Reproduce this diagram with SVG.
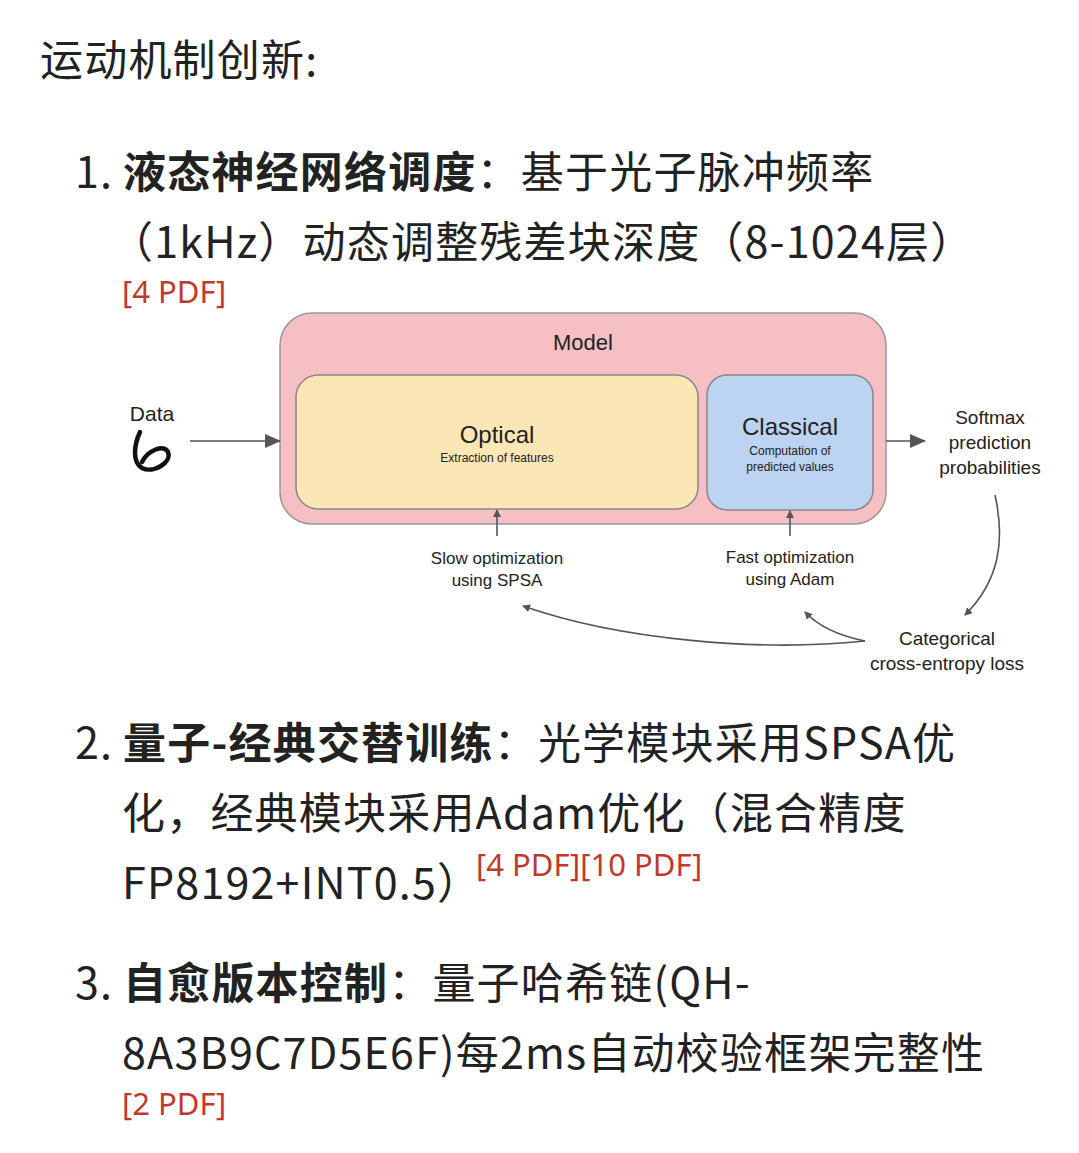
<svg xmlns="http://www.w3.org/2000/svg" width="1079" height="1153" viewBox="0 0 1079 1153">
<style>
.t{font-family:"Noto Sans CJK SC","Noto Sans",sans-serif;font-size:43px;fill:#222;letter-spacing:1.2px}
.b{font-weight:bold}
.r{font-family:"Noto Sans","Noto Sans CJK SC",sans-serif;font-size:31px;fill:#c0392b}
.d{font-family:"Liberation Sans",Arial,sans-serif;fill:#222;text-anchor:middle}
.c{fill:none;stroke:#555;stroke-width:1.6}
</style>
<defs>
<marker id="a" markerWidth="8" markerHeight="8" refX="7" refY="4" orient="auto" markerUnits="userSpaceOnUse"><path d="M0,0 L8,4 L0,8z" fill="#555"/></marker>
<marker id="A" markerWidth="16" markerHeight="14" refX="15" refY="7" orient="auto" markerUnits="userSpaceOnUse"><path d="M0,0 L16,7 L0,14z" fill="#555"/></marker>
<clipPath id="cp"><rect x="0" y="300" width="1041" height="400"/></clipPath>
</defs>
<rect width="1079" height="1153" fill="#fff"/>
<text class="t" x="40" y="76">运动机制创新:</text>
<text class="t" x="75" y="188">1. <tspan x="123" class="b">液态神经网络调度</tspan>：基于光子脉冲频率</text>
<text class="t" x="110" y="258">（1kHz）动态调整残差块深度（8-1024层）</text>
<text class="r" x="122" y="303">[4 PDF]</text>
<g id="model"><rect x="280" y="313" width="606" height="211" rx="32" fill="#f6bfc3" stroke="#999" stroke-width="1.5"/>
<text class="d" x="583" y="350" font-size="22">Model</text></g>
<g id="optical"><rect x="296" y="375" width="402" height="134" rx="22" fill="#fbe6b6" stroke="#888" stroke-width="1.5"/>
<text class="d" x="497" y="443" font-size="24">Optical</text><text class="d" x="497" y="462" font-size="12">Extraction of features</text></g>
<g id="classical"><rect x="707" y="375" width="166" height="135" rx="20" fill="#bcd3f1" stroke="#888" stroke-width="1.5"/>
<text class="d" x="790" y="435" font-size="24">Classical</text><text class="d" x="790" y="455" font-size="12">Computation of</text><text class="d" x="790" y="471" font-size="12">predicted values</text></g>
<g id="data"><text class="d" x="152" y="421" font-size="21">Data</text>
<path d="M140,432 C134,445 132,462 142,468 C154,474 172,462 168,452 C164,444 148,450 142,462" fill="none" stroke="#111" stroke-width="4.5" stroke-linecap="round"/></g>
<g id="softmax" clip-path="url(#cp)"><text class="d" x="990" y="424" font-size="19">Softmax</text><text class="d" x="990" y="449" font-size="19">prediction</text><text class="d" x="990" y="474" font-size="19">probabilities</text></g>
<g id="slow"><text class="d" x="497" y="564" font-size="17">Slow optimization</text><text class="d" x="497" y="586" font-size="17">using SPSA</text></g>
<g id="fast"><text class="d" x="790" y="563" font-size="17">Fast optimization</text><text class="d" x="790" y="585" font-size="17">using Adam</text></g>
<g id="loss"><text class="d" x="947" y="645" font-size="19">Categorical</text><text class="d" x="947" y="670" font-size="19">cross-entropy loss</text></g>
<g id="connectors">
<path class="c" d="M190,441 H280" stroke-width="2.5" marker-end="url(#A)"/>
<path class="c" d="M886,441 H925" stroke-width="2.5" marker-end="url(#A)"/>
<path class="c" d="M497,536 V510" marker-end="url(#a)"/>
<path class="c" d="M790,536 V511" marker-end="url(#a)"/>
<path class="c" d="M995,495 C1005,540 1000,580 965,615" marker-end="url(#a)"/>
<path class="c" d="M865,641 C760,652 620,640 523,606" marker-end="url(#a)"/>
<path class="c" d="M865,641 C840,636 820,628 805,612" marker-end="url(#a)"/>
</g>
<text class="t" x="75" y="759">2. <tspan x="123" class="b">量子-经典交替训练</tspan>：光学模块采用SPSA优</text>
<text class="t" x="122" y="829">化，经典模块采用Adam优化（混合精度</text>
<text class="t" x="122" y="899">FP8192+INT0.5）</text>
<text class="r" x="476" y="876">[4 PDF][10 PDF]</text>
<text class="t" x="75" y="999">3. <tspan x="123" class="b">自愈版本控制</tspan>：量子哈希链(QH-</text>
<text class="t" x="122" y="1069">8A3B9C7D5E6F)每2ms自动校验框架完整性</text>
<text class="r" x="122" y="1115">[2 PDF]</text>
</svg>
